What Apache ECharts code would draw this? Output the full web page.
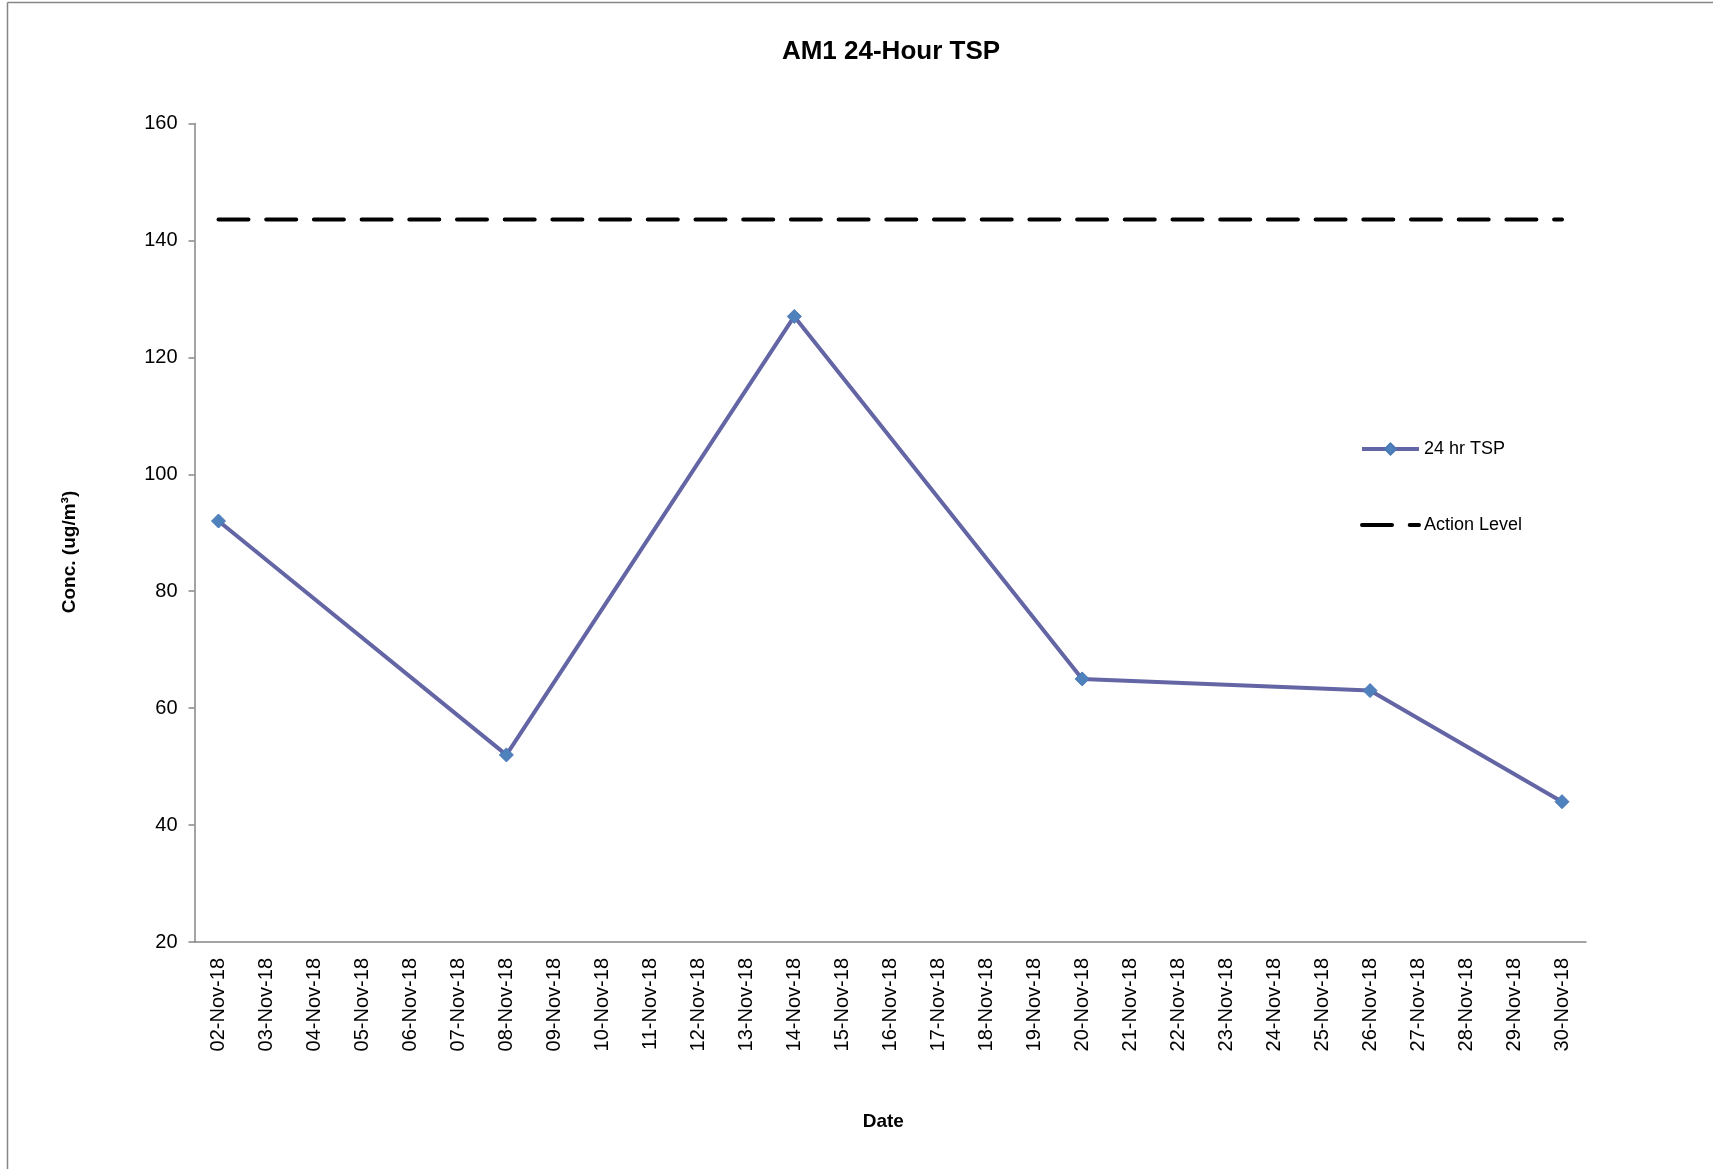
<!DOCTYPE html>
<html>
<head>
<meta charset="utf-8">
<script src="https://cdn.jsdelivr.net/npm/echarts@6/dist/echarts.min.js"></script>
<style>
html,body{margin:0;padding:0;background:#fff;}
#chart{width:1713px;height:1169px;}
</style>
</head>
<body>
<div id="chart"></div>
<script>
const categories = ['02-Nov-18','03-Nov-18','04-Nov-18','05-Nov-18','06-Nov-18','07-Nov-18','08-Nov-18','09-Nov-18','10-Nov-18','11-Nov-18','12-Nov-18','13-Nov-18','14-Nov-18','15-Nov-18','16-Nov-18','17-Nov-18','18-Nov-18','19-Nov-18','20-Nov-18','21-Nov-18','22-Nov-18','23-Nov-18','24-Nov-18','25-Nov-18','26-Nov-18','27-Nov-18','28-Nov-18','29-Nov-18','30-Nov-18'];
const tspValues = [92,null,null,null,null,null,52,null,null,null,null,null,127,null,null,null,null,null,65,null,null,null,null,null,63,null,null,null,44];
const actionLevel = 143.6;
const actionValues = categories.map(() => actionLevel);
const yMin = 20, yMax = 160, yInterval = 20;

const FONT = "'Liberation Sans', Arial, sans-serif";
const DASH = [30, 17.7];
const chart = echarts.init(document.getElementById('chart'), null, {renderer: 'canvas'});
chart.setOption({
  backgroundColor: '#ffffff',
  animation: false,
  title: {
    text: 'AM1 24-Hour TSP',
    left: 886, top: 34, textAlign: 'center',
    textStyle: {fontFamily: FONT, fontSize: 26, fontWeight: 'bold', color: '#000'}
  },
  legend: {
    orient: 'vertical',
    left: 1355, top: 435,
    itemWidth: 57, itemHeight: 14, itemGap: 58,
    textStyle: {fontFamily: FONT, fontSize: 18, color: '#000'},
    data: [
      {name: '24 hr TSP', lineStyle: {width: 4, color: '#6365a5'}},
      {name: 'Action Level', itemStyle: {opacity: 0}, lineStyle: {width: 4, color: '#000', type: DASH, cap: 'round'}}
    ]
  },
  grid: {left: 194.5, right: 127, top: 123.5, bottom: 227, containLabel: false},
  xAxis: {
    type: 'category',
    data: categories,
    boundaryGap: true,
    name: 'Date',
    nameLocation: 'middle',
    nameGap: 170,
    nameTextStyle: {fontFamily: FONT, fontSize: 19, fontWeight: 'bold', color: '#000', padding: [0, 14, 0, 0]},
    axisLine: {lineStyle: {color: '#868686', width: 1.5}},
    axisTick: {show: false},
    axisLabel: {rotate: 90, margin: 16, interval: 0, fontFamily: FONT, fontSize: 20, color: '#000'},
    splitLine: {show: false}
  },
  yAxis: {
    type: 'value',
    min: yMin, max: yMax, interval: yInterval,
    axisLine: {show: true, lineStyle: {color: '#868686', width: 1.5}},
    axisTick: {show: true, inside: false, length: 6, lineStyle: {color: '#868686', width: 1.5}},
    axisLabel: {margin: 17, fontFamily: FONT, fontSize: 20, color: '#000'},
    splitLine: {show: false}
  },
  graphic: [
    {type: 'line', shape: {x1: 7.5, y1: 2.5, x2: 1713, y2: 2.5}, style: {stroke: '#868686', lineWidth: 1.5}},
    {type: 'line', shape: {x1: 7.5, y1: 2.5, x2: 7.5, y2: 1169}, style: {stroke: '#868686', lineWidth: 1.5}},
    {type: 'text', x: 70, y: 552, rotation: Math.PI / 2,
     style: {text: 'Conc. (ug/m³)', fontFamily: FONT, fontSize: 19, fontWeight: 'bold', fill: '#000', align: 'center', verticalAlign: 'middle'}}
  ],
  series: [
    {
      name: '24 hr TSP',
      type: 'line',
      data: tspValues,
      connectNulls: true,
      symbol: 'diamond',
      symbolSize: 14,
      lineStyle: {color: '#6365a5', width: 4},
      itemStyle: {color: '#4f81bd', borderColor: '#4a78b5', borderWidth: 1}
    },
    {
      name: 'Action Level',
      type: 'line',
      data: actionValues,
      symbol: 'none',
      lineStyle: {color: '#000', width: 4, type: DASH, cap: 'round'},
      itemStyle: {color: '#000'}
    }
  ]
});
</script>
</body>
</html>
